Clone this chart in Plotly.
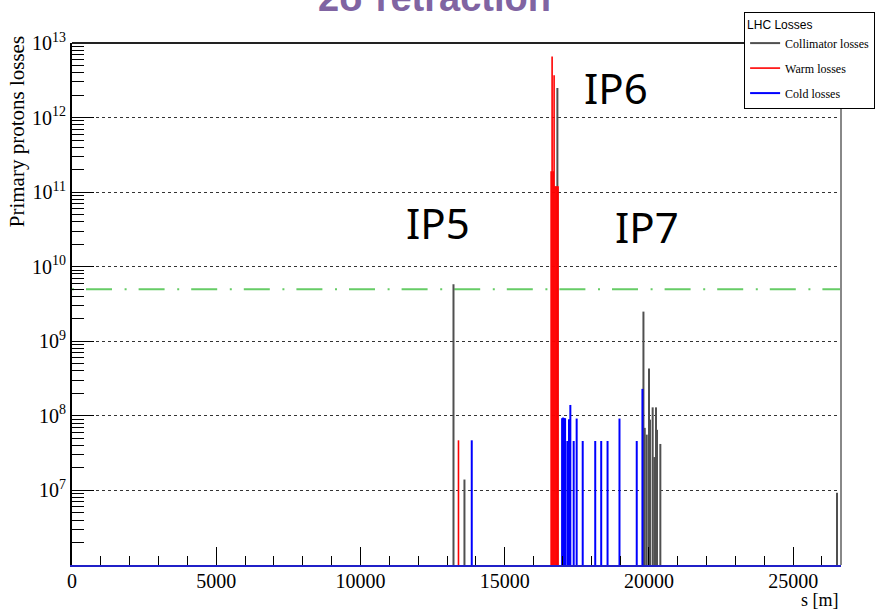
import plotly.graph_objects as go

# ---------------- data ----------------
S_MAX = 26659          # LHC circumference [m]
Y_FLOOR = 1e6          # histogram floor (bottom of log axis)
THRESHOLD = 5e9        # green dash-dot quench threshold

coll_s = [13225, 13605, 16827, 19810, 19855, 19924, 20003, 20037, 20130,
          20189, 20245, 20280, 20396, 26520]
coll_v = [5.8e9, 1.4e7, 2.5e12, 2.5e9, 6.9e7, 5.6e7, 4.3e8, 8.9e7, 1.3e8,
          2.8e7, 1.3e8, 6.5e7, 4.2e7, 9.3e6]

warm_s = [13398, 16610, 16644, 16679, 16713, 16748, 16782, 16817, 16851]
warm_v = [4.7e7, 1.9e11, 6.6e12, 1.9e11, 3.7e12, 1.2e11, 1.2e11, 1.2e11, 1.2e11]

cold_s = [13858, 16990, 17025, 17059, 17094, 17172, 17230, 17276, 17392,
          17495, 17705, 18139, 18346, 18566, 18980, 19578, 19775]
cold_v = [4.7e7, 9.3e7, 9.5e7, 9.3e7, 9.3e7, 4.6e7, 9.0e7, 1.4e8, 4.6e7,
          9.2e7, 4.6e7, 4.6e7, 4.6e7, 4.6e7, 9.2e7, 4.6e7, 2.3e8]

ip_labels = ["IP5", "IP6", "IP7"]
x_ticks = [0, 5000, 10000, 15000, 20000, 25000]
y_exps = [7, 8, 9, 10, 11, 12, 13]

SERIF = "Liberation Serif"


def spikes(s_list, v_list):
    xs, ys = [], []
    for s, v in zip(s_list, v_list):
        xs += [s, s, None]
        ys += [Y_FLOOR, v, None]
    return xs, ys


fig = go.Figure()

# threshold line
fig.add_trace(go.Scatter(
    x=[0, S_MAX], y=[THRESHOLD, THRESHOLD], mode="lines",
    line=dict(color="#66cc66", width=2, dash="2px,12px,26px,12.6px"),
    showlegend=False, hoverinfo="skip"))

for name, s_l, v_l, col, w, grp in [
        ("Collimator losses", coll_s, coll_v, "#505050", 2, "a"),
        ("Warm losses", warm_s, warm_v, "#ff0000", 1.6, "b"),
        ("Cold losses", cold_s, cold_v, "#0000ff", 2, "c")]:
    xs, ys = spikes(s_l, v_l)
    fig.add_trace(go.Scatter(x=xs, y=ys, mode="lines", name=name,
                             legendgroup=grp,
                             line=dict(color=col, width=w)))

minor_vals = [k * 10 ** n for n in range(6, 13) for k in range(2, 10)]

fig.update_layout(
    width=887, height=610,
    margin=dict(l=72, r=44, t=43, b=45),
    paper_bgcolor="white", plot_bgcolor="white",
    showlegend=True,
    legend=dict(x=0.874, y=1.0594, xanchor="left", yanchor="top",
                bgcolor="white", bordercolor="black", borderwidth=1,
                font=dict(family=SERIF, size=12, color="black"),
                title=dict(text="LHC Losses",
                           font=dict(family="Liberation Sans", size=12, color="black")),
                tracegroupgap=6, itemwidth=30, traceorder="grouped"),
    xaxis=dict(range=[0, S_MAX], tickvals=x_ticks,
               ticktext=[str(v) for v in x_ticks],
               ticks="inside", ticklen=18, tickwidth=1, tickcolor="black",
               ticklabelstandoff=-3,
               minor=dict(dtick=1000, tick0=0, ticks="inside", ticklen=9,
                          tickcolor="black", showgrid=False),
               showgrid=False, zeroline=False,
               showline=True, linecolor="#2020c8", linewidth=2,
               tickfont=dict(family=SERIF, size=20, color="black")),
    yaxis=dict(type="log", range=[6, 13],
               tickvals=[10.0 ** e for e in y_exps],
               ticktext=["10<sup>%d</sup>" % e for e in y_exps],
               ticks="inside", ticklen=22, tickwidth=1, tickcolor="black",
               minor=dict(tickvals=minor_vals, ticks="inside", ticklen=12,
                          tickcolor="black", showgrid=False),
               showgrid=True, gridcolor="#333333", griddash="dot", gridwidth=1,
               zeroline=False, showline=True, linecolor="black", linewidth=2,
               tickfont=dict(family=SERIF, size=20, color="black")),
)

# frame (top and right)
fig.add_shape(type="line", xref="paper", yref="paper", x0=0, x1=1, y0=1, y1=1,
              line=dict(color="#222222", width=2))
fig.add_shape(type="line", xref="paper", yref="paper", x0=1, x1=1, y0=0, y1=1,
              line=dict(color="#888888", width=2))

# IP labels
for txt, px, py in zip(ip_labels, [0.476, 0.707, 0.748], [0.657, 0.914, 0.648]):
    fig.add_annotation(text=txt, xref="paper", yref="paper", x=px, y=py,
                       showarrow=False, xanchor="center", yanchor="middle",
                       font=dict(family="Noto Sans", size=42, color="black"))

# axis titles
fig.add_annotation(text="Primary protons losses", xref="paper", yref="paper",
                   x=-0.072, y=1.017, xanchor="center", yanchor="top",
                   textangle=-90, showarrow=False,
                   font=dict(family=SERIF, size=21, color="black"))
fig.add_annotation(text="s [m]", xref="paper", yref="paper",
                   x=1.0, y=-0.068, xanchor="right", yanchor="middle",
                   showarrow=False,
                   font=dict(family=SERIF, size=18, color="black"))

# slide title (cut off at the top of the page)
fig.add_annotation(text="<b>2σ retraction</b>", xref="paper", yref="paper",
                   x=0.472, y=1.086, xanchor="center", yanchor="middle",
                   showarrow=False,
                   font=dict(family="Liberation Sans", size=38, color="#8064A2"))

fig.write_html("out.html")
